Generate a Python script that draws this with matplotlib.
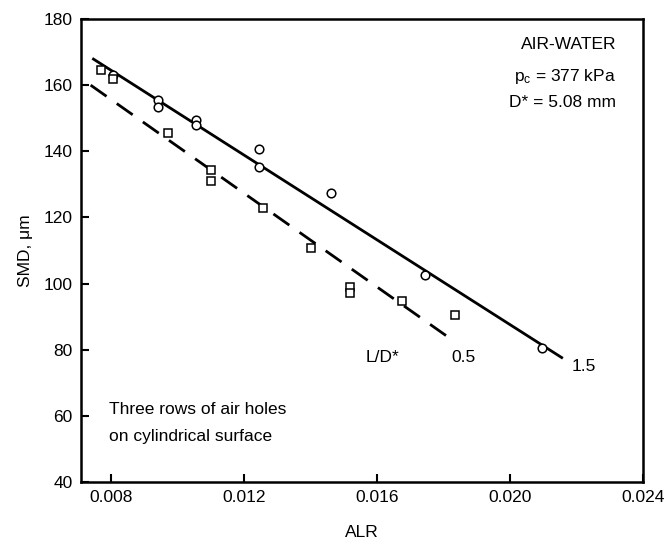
import numpy as np
import matplotlib.pyplot as plt

plt.rcParams['font.family'] = ['Liberation Sans', 'DejaVu Sans']
plt.rcParams['mathtext.default'] = 'regular'

# L/D* = 1.5 (open circles)
alr_15 = [0.00805, 0.00943, 0.00943, 0.01057, 0.01057, 0.01245, 0.01245, 0.01463, 0.01744, 0.02095]
smd_15 = [163.0, 155.5, 153.3, 149.5, 148.0, 140.6, 135.2, 127.5, 102.6, 80.4]

# L/D* = 0.5 (open squares)
alr_05 = [0.0077, 0.00805, 0.00971, 0.01102, 0.01102, 0.01258, 0.01401, 0.01518, 0.01518, 0.01676, 0.01836]
smd_05 = [164.6, 161.8, 145.4, 134.3, 131.1, 122.8, 110.7, 99.1, 97.1, 94.8, 90.5]

# fitted lines: end points
fit_15_x = [0.00744, 0.02159]
fit_15_y = [168.1, 77.4]
fit_05_x = [0.00739, 0.0182]
fit_05_y = [160.0, 83.4]

xticks = [0.008, 0.012, 0.016, 0.020, 0.024]
xticklabels = ['0.008', '0.012', '0.016', '0.020', '0.024']
yticks = [40, 60, 80, 100, 120, 140, 160, 180]

fig = plt.figure(figsize=(6.72, 5.45), dpi=100)
ax = fig.add_axes([81 / 672, 1 - 482 / 545, (643 - 81) / 672, (482 - 19) / 545])

ax.plot(fit_15_x, fit_15_y, color='black', lw=2.0, solid_capstyle='butt')
ax.plot(fit_05_x, fit_05_y, color='black', lw=2.0, dashes=(7, 4.5))

ax.plot(alr_15, smd_15, 'o', ms=6.2, mfc='white', mec='black', mew=1.1)
ax.plot(alr_05, smd_05, 's', ms=6.2, mfc='white', mec='black', mew=1.1)

ax.set_xlim(0.0071, 0.024)
ax.set_ylim(40, 180)
ax.set_xticks(xticks)
ax.set_xticklabels(xticklabels)
ax.set_yticks(yticks)
ax.tick_params(direction='in', length=6, width=1.5, labelsize=12.5, pad=6,
               top=False, right=False, colors='black')
for s in ax.spines.values():
    s.set_linewidth(1.8)

ax.set_xlabel('ALR', fontsize=12.5, labelpad=14)
ax.set_ylabel('SMD, μm', fontsize=12.5, labelpad=8)

ax.text(0.0232, 172.2, 'AIR-WATER', ha='right', va='center', fontsize=12.5)
ax.text(0.0232, 162.6, 'p$_{c}$ = 377 kPa', ha='right', va='center', fontsize=12.5)
ax.text(0.0232, 154.8, 'D* = 5.08 mm', ha='right', va='center', fontsize=12.5)

ax.text(0.01565, 77.6, 'L/D*', ha='left', va='center', fontsize=12.5)
ax.text(0.01825, 77.6, '0.5', ha='left', va='center', fontsize=12.5)
ax.text(0.02185, 75.0, '1.5', ha='left', va='center', fontsize=12.5)

ax.text(0.00795, 62.0, 'Three rows of air holes', ha='left', va='center', fontsize=12.5)
ax.text(0.00795, 53.8, 'on cylindrical surface', ha='left', va='center', fontsize=12.5)

fig.savefig('out.png', dpi=100)
